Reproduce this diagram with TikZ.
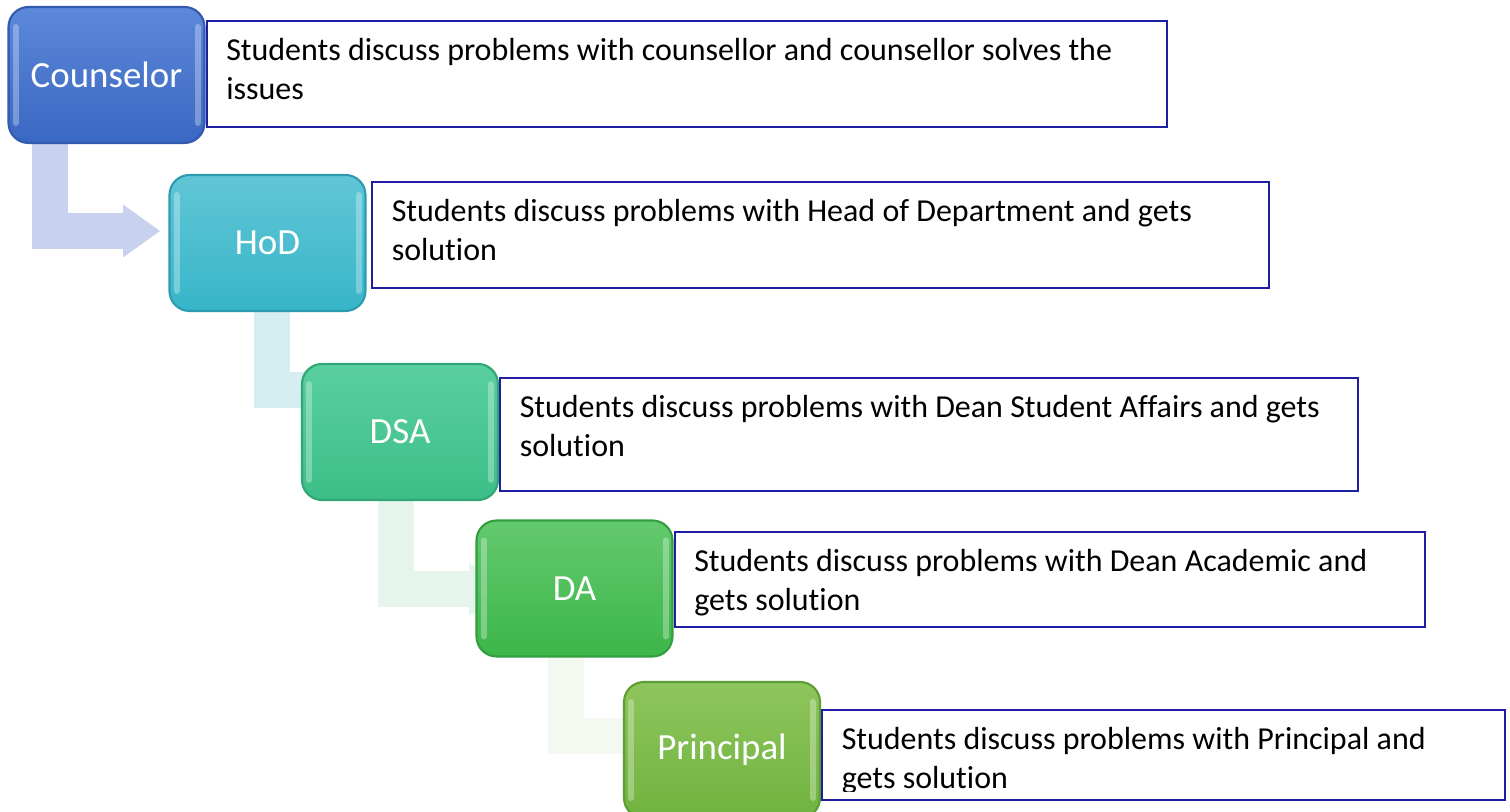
\documentclass[tikz,border=0pt]{standalone}
\usepackage{fontspec}
\setmainfont{Carlito}[Ligatures=NoCommon]
\usetikzlibrary{positioning, arrows.meta, backgrounds}
\definecolor{noteblue}{RGB}{30,30,160}
\definecolor{cTop}{RGB}{92,137,217}
\definecolor{cBot}{RGB}{58,103,193}
\definecolor{cLine}{RGB}{50,90,175}
\definecolor{hTop}{RGB}{96,198,214}
\definecolor{hBot}{RGB}{56,181,201}
\definecolor{hLine}{RGB}{45,155,175}
\definecolor{dsaTop}{RGB}{90,207,160}
\definecolor{dsaBot}{RGB}{60,190,136}
\definecolor{dsaLine}{RGB}{50,165,118}
\definecolor{daTop}{RGB}{100,201,110}
\definecolor{daBot}{RGB}{60,182,74}
\definecolor{daLine}{RGB}{50,158,62}
\definecolor{pTop}{RGB}{142,197,92}
\definecolor{pBot}{RGB}{112,179,64}
\definecolor{pLine}{RGB}{94,156,52}
\definecolor{flowA}{RGB}{200,210,238}
\definecolor{flowB}{RGB}{213,238,241}
\definecolor{flowC}{RGB}{229,245,235}
\definecolor{flowD}{RGB}{243,249,240}
\tikzset{
  stage/.style n args={3}{
    rounded corners=0.2cm, minimum width=1.96cm, minimum height=1.36cm,
    top color=#1, bottom color=#2, draw=#3, line width=0.6pt,
    text=white, font=\fontsize{10.5pt}{12pt}\selectfont,
    path picture={
      \draw[white, opacity=0.3, line width=0.06cm, line cap=round]
        ([xshift=0.07cm,yshift=-0.2cm]path picture bounding box.north west)
          -- ([xshift=0.07cm,yshift=0.2cm]path picture bounding box.south west)
        ([xshift=-0.07cm,yshift=-0.2cm]path picture bounding box.north east)
          -- ([xshift=-0.07cm,yshift=0.2cm]path picture bounding box.south east);
    }
  },
  note/.style={draw=noteblue, line width=0.02cm, fill=white, inner sep=0pt},
  notetext/.style={anchor=north west, align=left, inner xsep=0.2cm, inner ysep=0.18cm,
    font=\fontsize{9.1pt}{11.1pt}\selectfont},
  flow/.style={line width=0.36cm, line join=miter,
    -{Triangle[length=0.37cm,width=0.53cm,line width=0pt]}},
}
\begin{document}
\begin{tikzpicture}
  \useasboundingbox (0,0) rectangle (15.10,8.12);
  \clip (0,0) rectangle (15.10,8.12);

  % stages
  \node[stage={cTop}{cBot}{cLine}]       (c)   at (1.065,7.37)  {Counselor};
  \node[stage={hTop}{hBot}{hLine}]       (h)   at (2.675,5.69)  {HoD};
  \node[stage={dsaTop}{dsaBot}{dsaLine}] (dsa) at (4.00,3.80)   {DSA};
  \node[stage={daTop}{daBot}{daLine}]    (da)  at (5.745,2.235) {DA};
  \node[stage={pTop}{pBot}{pLine}]       (p)   at (7.22,0.62)   {Principal};

  % description frames
  \node[note, minimum width=9.60cm, minimum height=1.06cm, right=0pt of c, yshift=0.01cm]      (c-note)   {};
  \node[note, minimum width=8.97cm, minimum height=1.06cm, right=0.045cm of h, yshift=0.08cm]  (h-note)   {};
  \node[note, minimum width=8.58cm, minimum height=1.13cm, right=0pt of dsa, yshift=-0.025cm]  (dsa-note) {};
  \node[note, minimum width=7.50cm, minimum height=0.95cm, right=0pt of da, yshift=0.09cm]     (da-note)  {};
  \node[note, minimum width=6.83cm, minimum height=0.90cm, right=0pt of p, yshift=-0.05cm]     (p-note)   {};

  \node[notetext] (c-text)   at (c-note.north west)   {Students discuss problems with counsellor and counsellor solves the\\issues};
  \node[notetext] (h-text)   at (h-note.north west)   {Students discuss problems with Head of Department and gets\\solution};
  \node[notetext] (dsa-text) at (dsa-note.north west) {Students discuss problems with Dean Student Affairs and gets\\solution};
  \node[notetext] (da-text)  at (da-note.north west)  {Students discuss problems with Dean Academic and\\gets solution};
  \begin{scope}
    \clip (p-note.north west) rectangle ([yshift=0.09cm]p-note.south east);
    \node[notetext] (p-text) at (p-note.north west) {Students discuss problems with Principal and\\gets solution};
  \end{scope}

  % elbow arrows behind the stages
  \coordinate (t1) at (1.60,5.81);
  \coordinate (t2) at (3.815,4.22);
  \coordinate (t3) at (5.06,2.225);
  \coordinate (t4) at (6.76,0.755);
  \begin{scope}[on background layer]
    \draw[flow, draw=flowA] ([xshift=-0.565cm]c.south) |- (t1);
    \draw[flow, draw=flowB] ([xshift=0.04cm]h.south)    |- (t2);
    \draw[flow, draw=flowC] ([xshift=-0.04cm]dsa.south) |- (t3);
    \draw[flow, draw=flowD] ([xshift=-0.085cm]da.south) |- (t4);
  \end{scope}
\end{tikzpicture}
\end{document}
